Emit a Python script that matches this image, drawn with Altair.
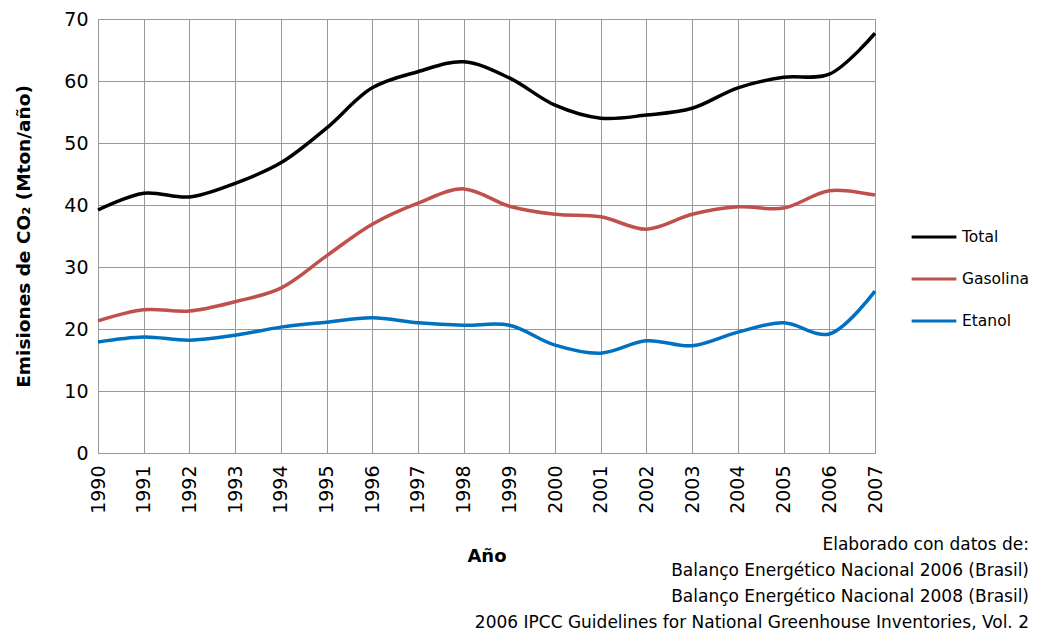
import altair as alt
import pandas as pd

years = list(range(1990, 2008))
total = [39.2, 41.9, 41.3, 43.5, 46.8, 52.4, 58.9, 61.5, 63.1, 60.5, 56.1, 54.0, 54.5, 55.6, 58.9, 60.6, 61.1, 67.7]
gasolina = [21.3, 23.1, 22.9, 24.4, 26.6, 31.8, 36.9, 40.3, 42.6, 39.8, 38.5, 38.1, 36.1, 38.5, 39.7, 39.5, 42.3, 41.6]
etanol = [17.9, 18.7, 18.2, 19.0, 20.3, 21.1, 21.8, 21.0, 20.6, 20.6, 17.4, 16.1, 18.1, 17.3, 19.5, 21.0, 19.2, 26.1]

series_names = ["Total", "Gasolina", "Etanol"]
series_colors = ["#000000", "#C0504D", "#0070C0"]
source_lines = [
    "Elaborado con datos de:",
    "Balanço Energético Nacional 2006 (Brasil)",
    "Balanço Energético Nacional 2008 (Brasil)",
    "2006 IPCC Guidelines for National Greenhouse Inventories, Vol. 2",
]

rows = []
for name, vals in zip(series_names, [total, gasolina, etanol]):
    for y, v in zip(years, vals):
        rows.append({"Año": y, "Serie": name, "Valor": v})
df = pd.DataFrame(rows)

FONT = "DejaVu Sans"
W, H = 777, 434

lines = alt.Chart(df).mark_line(interpolate="catmull-rom", strokeWidth=3.5).encode(
    x=alt.X("Año:Q", scale=alt.Scale(domain=[1990, 2007], nice=False, zero=False),
            axis=alt.Axis(values=years, format="d", labelAngle=270, labelAlign="right",
                          labelBaseline="middle", labelPadding=12, title="Año",
                          titlePadding=34, titleFontSize=18, titleFontWeight="bold",
                          titleColor="#000000", labelFontSize=19, labelColor="#000000",
                          grid=True, ticks=False, domainColor="#999999")),
    y=alt.Y("Valor:Q", scale=alt.Scale(domain=[0, 70], nice=False),
            axis=alt.Axis(values=[0, 10, 20, 30, 40, 50, 60, 70], title="Emisiones de CO₂ (Mton/año)",
                          titlePadding=30, titleFontSize=18.5, titleFontWeight="bold",
                          titleColor="#000000", labelFontSize=19, labelColor="#000000",
                          labelPadding=10, grid=True, ticks=False, domain=False)),
    color=alt.Color("Serie:N", scale=alt.Scale(domain=series_names, range=series_colors),
                    sort=series_names,
                    legend=alt.Legend(title=None, orient="none", legendX=W + 35, legendY=194,
                                      symbolType="stroke", symbolSize=2000, symbolStrokeWidth=3,
                                      labelFontSize=15.5, labelColor="#000000", rowPadding=9,
                                      labelOffset=4)),
    order=alt.Order("Año:Q"),
)

src = pd.DataFrame({"t": ["\n".join(source_lines)]})
text = alt.Chart(src).mark_text(align="right", baseline="top", fontSize=17, lineHeight=26,
                                lineBreak="\n", font=FONT, color="#000000").encode(
    x=alt.value(931), y=alt.value(518), text="t:N")

chart = alt.layer(lines, text).properties(
    width=W, height=H, autosize=alt.AutoSizeParams(type="none"),
    padding={"left": 90, "top": 11, "right": 156, "bottom": 179},
).configure(font=FONT).configure_view(stroke="#999999", strokeWidth=1).configure_axis(
    gridColor="#999999", gridWidth=1, labelFont=FONT, titleFont=FONT
).configure_legend(labelFont=FONT)

chart.save("out.html", embed_options={"renderer": "svg", "actions": False})
